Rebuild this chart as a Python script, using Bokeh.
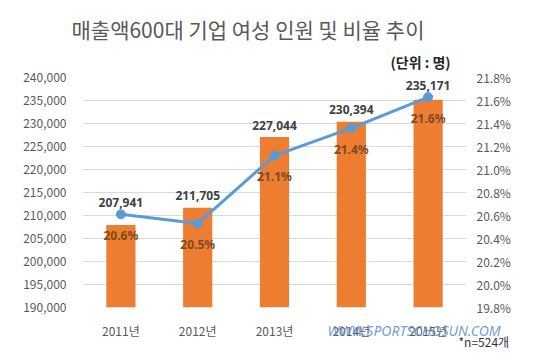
from bokeh.plotting import figure
from bokeh.models import (FactorRange, Range1d, LinearAxis, FixedTicker, NumeralTickFormatter,
                          PrintfTickFormatter, ColumnDataSource, LabelSet, Title)
from bokeh.core.properties import value
from bokeh.embed import file_html
from bokeh.resources import INLINE

years = ["2011년", "2012년", "2013년", "2014년", "2015년"]
counts = [207941, 211705, 227044, 230394, 235171]
ratio = [20.61, 20.53, 21.12, 21.36, 21.63]
left_ticks = [190000, 195000, 200000, 205000, 210000, 215000, 220000, 225000, 230000, 235000, 240000]
right_ticks = [19.8, 20.0, 20.2, 20.4, 20.6, 20.8, 21.0, 21.2, 21.4, 21.6, 21.8]

title_text = "매출액600대 기업 여성 인원 및 비율 추이"
unit_text = "(단위 : 명)"
note_text = "*n=524개"
url_text = "WWW.SPORTSCHOSUN.COM"

FONT = "Noto Sans CJK KR"
NUMFONT = "Noto Sans"
W, H = 540, 360
ymin, ymax = left_ticks[0], left_ticks[-1]
rmin, rmax = right_ticks[0], right_ticks[-1]

# position for count labels: above the higher of bar top and line marker
ratio_on_left = [ymin + (r - rmin) / (rmax - rmin) * (ymax - ymin) for r in ratio]
count_label_y = [max(c, rl) for c, rl in zip(counts, ratio_on_left)]

src = ColumnDataSource(dict(
    x=years, counts=counts, ratio=ratio, cy=count_label_y,
    ctext=[f"{c:,}" for c in counts],
    rtext=[f"{r:.1f}%" for r in ratio],
))

p = figure(width=W, height=H, x_range=FactorRange(*years), title=None,
           y_range=Range1d(ymin, ymax), output_backend="svg", toolbar_location=None,
           min_border_left=82, min_border_right=74, min_border_top=77, min_border_bottom=53)
p.extra_y_ranges = {"pct": Range1d(rmin, rmax)}
p.outline_line_color = None
p.background_fill_color = "white"
p.border_fill_color = "white"

p.vbar(x="x", top="counts", bottom=ymin, width=0.38, source=src,
       fill_color="#ED7D31", line_color=None)
p.line(x="x", y="ratio", source=src, y_range_name="pct", line_color="#5B9BD5", line_width=3)
p.scatter(x="x", y="ratio", source=src, y_range_name="pct", size=9,
          fill_color="#5B9BD5", line_color="#5B9BD5")

# axes
p.yaxis.ticker = FixedTicker(ticks=left_ticks)
p.yaxis.formatter = NumeralTickFormatter(format="0,0")
rax = LinearAxis(y_range_name="pct", ticker=FixedTicker(ticks=right_ticks),
                 formatter=PrintfTickFormatter(format="%.1f%%"))
p.add_layout(rax, "right")
for ax in [p.yaxis[0], p.xaxis[0], rax]:
    ax.axis_line_color = None
    ax.major_tick_line_color = None
    ax.minor_tick_line_color = None
    ax.major_tick_out = 0
    ax.major_tick_in = 0
    ax.minor_tick_out = 0
    ax.major_label_text_font = FONT
    ax.major_label_text_font_size = "12px"
    ax.major_label_text_color = "#595959"
p.yaxis[0].major_label_standoff = 16
rax.major_label_standoff = 10
p.xaxis.major_label_standoff = 14

p.xgrid.grid_line_color = None
p.ygrid.grid_line_color = "#D9D9D9"
p.ygrid.ticker = FixedTicker(ticks=left_ticks)

# data labels
p.add_layout(LabelSet(x="x", y="cy", text="ctext", source=src, y_offset=12,
                      text_align="center", text_baseline="middle", text_font=value(NUMFONT),
                      text_font_size="12px", text_font_style="bold", text_color="#404040"))
p.add_layout(LabelSet(x="x", y="ratio", text="rtext", source=src, y_range_name="pct",
                      y_offset=-21, text_align="center", text_baseline="middle",
                      text_font=value(NUMFONT), text_font_size="12px", text_font_style="bold",
                      text_color="#7F4A22"))

# titles and notes in the side panels
def side_title(side, text, offset, standoff, size, color, style="normal", font=FONT,
               alpha=1.0, valign="middle"):
    p.add_layout(Title(text=text, align="left", offset=offset, standoff=standoff,
                       vertical_align=valign, text_font=font, text_font_size=size,
                       text_font_style=style, text_color=color, text_alpha=alpha), side)

side_title("above", unit_text, 308, 10, "14px", "#262626", style="bold")
side_title("above", title_text, -11, 2, "21px", "#595959")
side_title("below", url_text, 245, -42, "14px", "#4A86C8", style="italic", font=NUMFONT,
           alpha=0.8, valign="top")
side_title("below", note_text, 376, -18, "12px", "#333333", valign="top")

open("out.html", "w").write(file_html(p, INLINE))
